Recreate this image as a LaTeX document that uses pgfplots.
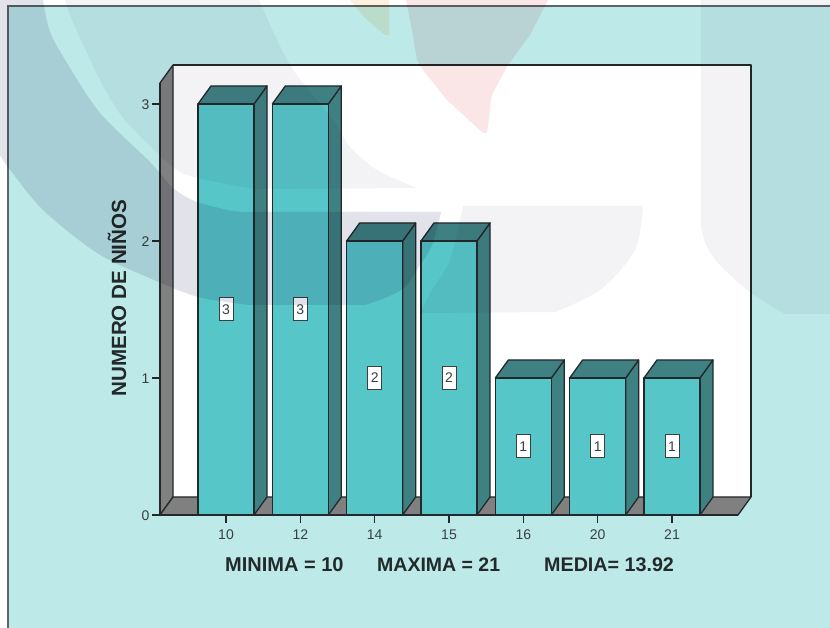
\documentclass[border=0pt]{standalone}
\usepackage{fontspec}
\setmainfont{Liberation Sans}
\usepackage{pgfplots}
\pgfplotsset{compat=1.18}

\definecolor{panelbg}{HTML}{BDE9E9}
\definecolor{framegray}{HTML}{5E6468}
\definecolor{wallgray}{HTML}{808080}
\definecolor{inkdark}{HTML}{23292B}
\definecolor{tickink}{HTML}{3A4042}
\definecolor{barfront}{HTML}{57C6C9}
\definecolor{barshade}{HTML}{3F8182}
\definecolor{washstrong}{RGB}{226,226,234}
\definecolor{washlight}{RGB}{243,243,246}
\definecolor{washred}{RGB}{250,230,231}
\definecolor{washorange}{RGB}{253,240,223}

% Depth of the pseudo-3D bars, in data units
\newcommand{\depthx}{0.1749}
\newcommand{\depthy}{0.1314}
\newcommand{\halfbar}{0.3767}

% One bar: category position, count
\newcommand{\threedbar}[2]{%
  \pgfmathsetmacro{\xl}{#1-\halfbar}%
  \pgfmathsetmacro{\xr}{#1+\halfbar}%
  \pgfmathsetmacro{\xld}{\xl+\depthx}%
  \pgfmathsetmacro{\xrd}{\xr+\depthx}%
  \pgfmathsetmacro{\yd}{#2+\depthy}%
  \pgfmathsetmacro{\ymid}{#2/2}%
  \edef\drawbar{%
    \noexpand\addplot[barface, fill=barshade] coordinates
      {(\xr,0) (\xrd,\depthy) (\xrd,\yd) (\xr,#2)} -- cycle;
    \noexpand\addplot[barface, fill=barshade] coordinates
      {(\xl,#2) (\xld,\yd) (\xrd,\yd) (\xr,#2)} -- cycle;
    \noexpand\addplot[barface, ybar, bar width=56pt, fill=barfront] coordinates {(#1,#2)};
    \noexpand\addplot[countlabel] coordinates {(#1,\ymid) [#2]};
  }%
  \drawbar
}

\pgfplotsset{
  barface/.style={draw=inkdark, line width=1.3pt, line join=round, mark=none},
  countlabel/.style={
    draw=none, mark=none,
    point meta=explicit symbolic,
    nodes near coords,
    every node near coord/.style={
      anchor=center, fill=white, draw=tickink, line width=1pt,
      inner sep=0pt, minimum width=14pt, minimum height=23pt,
      text=tickink, font=\fontsize{14}{15}\selectfont},
  },
}

\begin{document}
\begin{tikzpicture}
  \useasboundingbox (0,0) rectangle (830pt,628pt);

  % Page and panel, working downward from the top-left corner
  \begin{scope}[x=1pt, y=-1pt, yshift=628pt]
    \fill[white] (0,0) rectangle (830,628);
    \fill[panelbg] (8,6) rectangle (830,628);
    \draw[framegray, line width=1.6pt] (8,628) -- (8,6) -- (830,6);

    % Back wall, side wall and floor of the chart box
    \fill[white] (173,65) rectangle (751,497);
    \filldraw[fill=wallgray, draw=inkdark, line width=1.3pt, line join=round]
      (160,83) -- (173,65) -- (173,497) -- (160,515) -- cycle;
    \filldraw[fill=wallgray, draw=inkdark, line width=1.3pt, line join=round]
      (160,515) -- (173,497) -- (751,497) -- (738,515) -- cycle;
    \draw[inkdark, line width=1.3pt, line join=round]
      (173,65) -- (751,65) -- (751,497);
  \end{scope}

  \begin{axis}[
    at={(160pt,113pt)}, anchor=south west,
    scale only axis, width=578pt, height=432pt,
    xmin=-0.888, xmax=6.888, ymin=0, ymax=3.153,
    clip=false,
    axis lines=left,
    axis line style={-, draw=inkdark, line width=1.3pt},
    tick style={draw=inkdark, line width=1.1pt},
    tick align=outside, major tick length=8pt,
    minor tick num=0,
    xtick={0,1,2,3,4,5,6},
    xticklabels={10,12,14,15,16,20,21},
    ytick={0,1,2,3},
    /pgf/number format/assume math mode=true,
    tick label style={text=tickink, font=\fontsize{14}{15}\selectfont},
    xticklabel style={yshift=-3pt},
    yticklabel style={yshift=-1pt, xshift=1pt},
    every axis y label/.style={
      at={(rel axis cs:0,0.502)}, xshift=-43pt, rotate=90, anchor=center,
      text=inkdark, font=\fontsize{20.6}{22}\selectfont\bfseries},
    ylabel={NUMERO DE NIÑOS},
  ]
    \threedbar{0}{3}
    \threedbar{1}{3}
    \threedbar{2}{2}
    \threedbar{3}{2}
    \threedbar{4}{1}
    \threedbar{5}{1}
    \threedbar{6}{1}
  \end{axis}

  \begin{scope}[x=1pt, y=-1pt, yshift=628pt]
    % Summary line under the axis
    \begin{scope}[every node/.style={anchor=west, inner sep=0pt, text=inkdark}]
      \node[font=\fontsize{20}{22}\selectfont\bfseries] at (225,565) {MINIMA = 10};
      \node[font=\fontsize{19.5}{22}\selectfont\bfseries] at (377,565) {MAXIMA = 21};
      \node[font=\fontsize{19.7}{22}\selectfont\bfseries] at (544,565) {MEDIA= 13.92};
    \end{scope}

    % Faint printed emblem lying over the whole page
    \begin{scope}[blend mode=multiply]
      \fill[washstrong]
        (0,0) -- (43,0)
        -- plot[smooth, tension=0.5] coordinates {(43,0) (50,32) (67,63) (100,113) (150,162) (173,188) (197,202) (233,211) (250,212)}
        -- (441,212)
        -- plot[smooth, tension=0.5] coordinates {(441,212) (432,245) (420,265) (405,287) (385,298) (365,305)}
        -- (250,305)
        -- plot[smooth, tension=0.5] coordinates {(250,305) (198,297) (147,277) (97,253) (43,210) (8,167) (0,155)}
        -- cycle;
      \fill[washlight]
        (65,0) -- (259,0)
        -- plot[smooth, tension=0.5] coordinates {(259,0) (290,65) (333,120) (350,147) (377,170) (417,188)}
        -- (255,189)
        -- plot[smooth, tension=0.5] coordinates {(255,189) (198,178) (173,167) (125,120) (100,80) (72,20) (65,0)}
        -- cycle;
      \fill[washlight]
        (701,0) -- (830,0) -- (830,314) -- (785,314)
        -- plot[smooth, tension=0.5] coordinates {(785,314) (751,293) (720,265) (706,245) (701,225)}
        -- cycle;
      \fill[washlight]
        (463,206) -- (643,206)
        -- plot[smooth, tension=0.5] coordinates {(643,206) (635,250) (600,290) (555,312)}
        -- (420,313)
        -- plot[smooth, tension=0.5] coordinates {(420,313) (432,290) (450,260) (463,206)}
        -- cycle;
      \fill[washred]
        (406,0) -- (548,0) -- (530,35) -- (508,65) -- (497,85) -- (491,97) -- (490,110)
        -- (487,133) -- (483,133) -- (447,100) -- (423,70) -- (417,60) -- (412,30) -- cycle;
      \fill[washorange]
        (350,0) -- (389,0) -- (389,35) -- (385,35) -- (365,18) -- cycle;
    \end{scope}
  \end{scope}
\end{tikzpicture}
\end{document}
